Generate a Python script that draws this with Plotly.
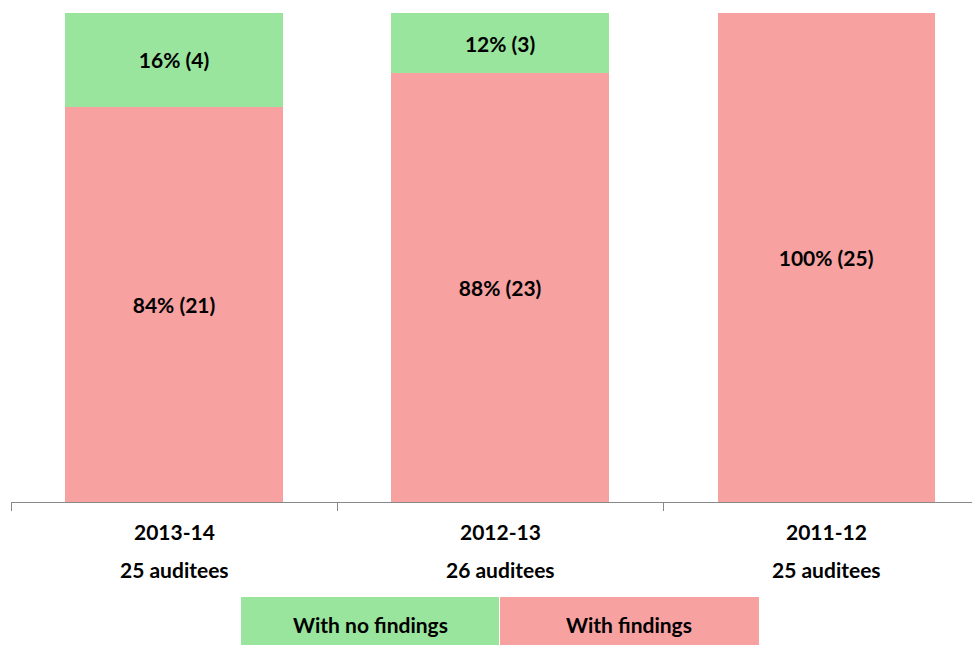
import plotly.graph_objects as go

years = ["2013-14", "2012-13", "2011-12"]
auditees = ["25 auditees", "26 auditees", "25 auditees"]
with_findings = [80.8, 87.7, 100]
with_no_findings = [19.2, 12.3, 0]
findings_labels = ["84% (21)", "88% (23)", "100% (25)"]
no_findings_labels = ["16% (4)", "12% (3)", ""]
legend_names = ["With no findings", "With findings"]

GREEN = "#99E59D"
PINK = "#F7A1A1"
FONT = "Lato"
x = list(range(len(years)))

fig = go.Figure()
fig.add_trace(go.Bar(
    x=x, y=with_findings, name=legend_names[1], marker=dict(color=PINK, line_width=0),
    text=findings_labels, textposition="inside", insidetextanchor="middle",
    textfont=dict(family=FONT, size=21, color="black", weight="bold"), textangle=0,
))
fig.add_trace(go.Bar(
    x=x, y=with_no_findings, name=legend_names[0], marker=dict(color=GREEN, line_width=0),
    text=no_findings_labels, textposition="inside", insidetextanchor="middle",
    textfont=dict(family=FONT, size=21, color="black", weight="bold"), textangle=0,
))

fig.update_layout(
    width=972, height=637,
    margin=dict(l=3, r=0, t=5, b=143),
    barmode="stack", bargap=0.334,
    plot_bgcolor="white", paper_bgcolor="white",
    showlegend=False,
    uniformtext=dict(mode="show", minsize=10),
    font=dict(family=FONT, size=21, color="black"),
)
fig.update_xaxes(
    range=[-0.5, 2.472], tickvals=[-0.5, 0.5, 1.5, 2.5], ticktext=["", "", "", ""],
    ticks="outside", ticklen=8, tickcolor="#888888", tickwidth=1,
    showline=True, linecolor="#888888", linewidth=1, showgrid=False, zeroline=False,
)
fig.update_yaxes(range=[0, 100], visible=False, showgrid=False)

for i, (yr, au) in enumerate(zip(years, auditees)):
    fig.add_annotation(x=i, y=0, xref="x", yref="paper", text=f"<b>{yr}</b>", showarrow=False,
                       yanchor="middle", yshift=-29, font=dict(family=FONT, size=21, color="black"))
    fig.add_annotation(x=i, y=0, xref="x", yref="paper", text=f"<b>{au}</b>", showarrow=False,
                       yanchor="middle", yshift=-67, font=dict(family=FONT, size=21, color="black"))

# custom legend boxes
legend_boxes = [(0.2374, 0.5036, GREEN), (0.5046, 0.7719, PINK)]
for (x0, x1, col), name in zip(legend_boxes, legend_names):
    fig.add_shape(type="rect", xref="paper", yref="paper", x0=x0, x1=x1, y0=-0.1943, y1=-0.30,
                  fillcolor=col, line_width=0, layer="below")
    fig.add_annotation(x=(x0 + x1) / 2, y=-0.2495, xref="paper", yref="paper", text=f"<b>{name}</b>",
                       showarrow=False, yanchor="middle", font=dict(family=FONT, size=21, color="black"))

fig.write_html("out.html")
